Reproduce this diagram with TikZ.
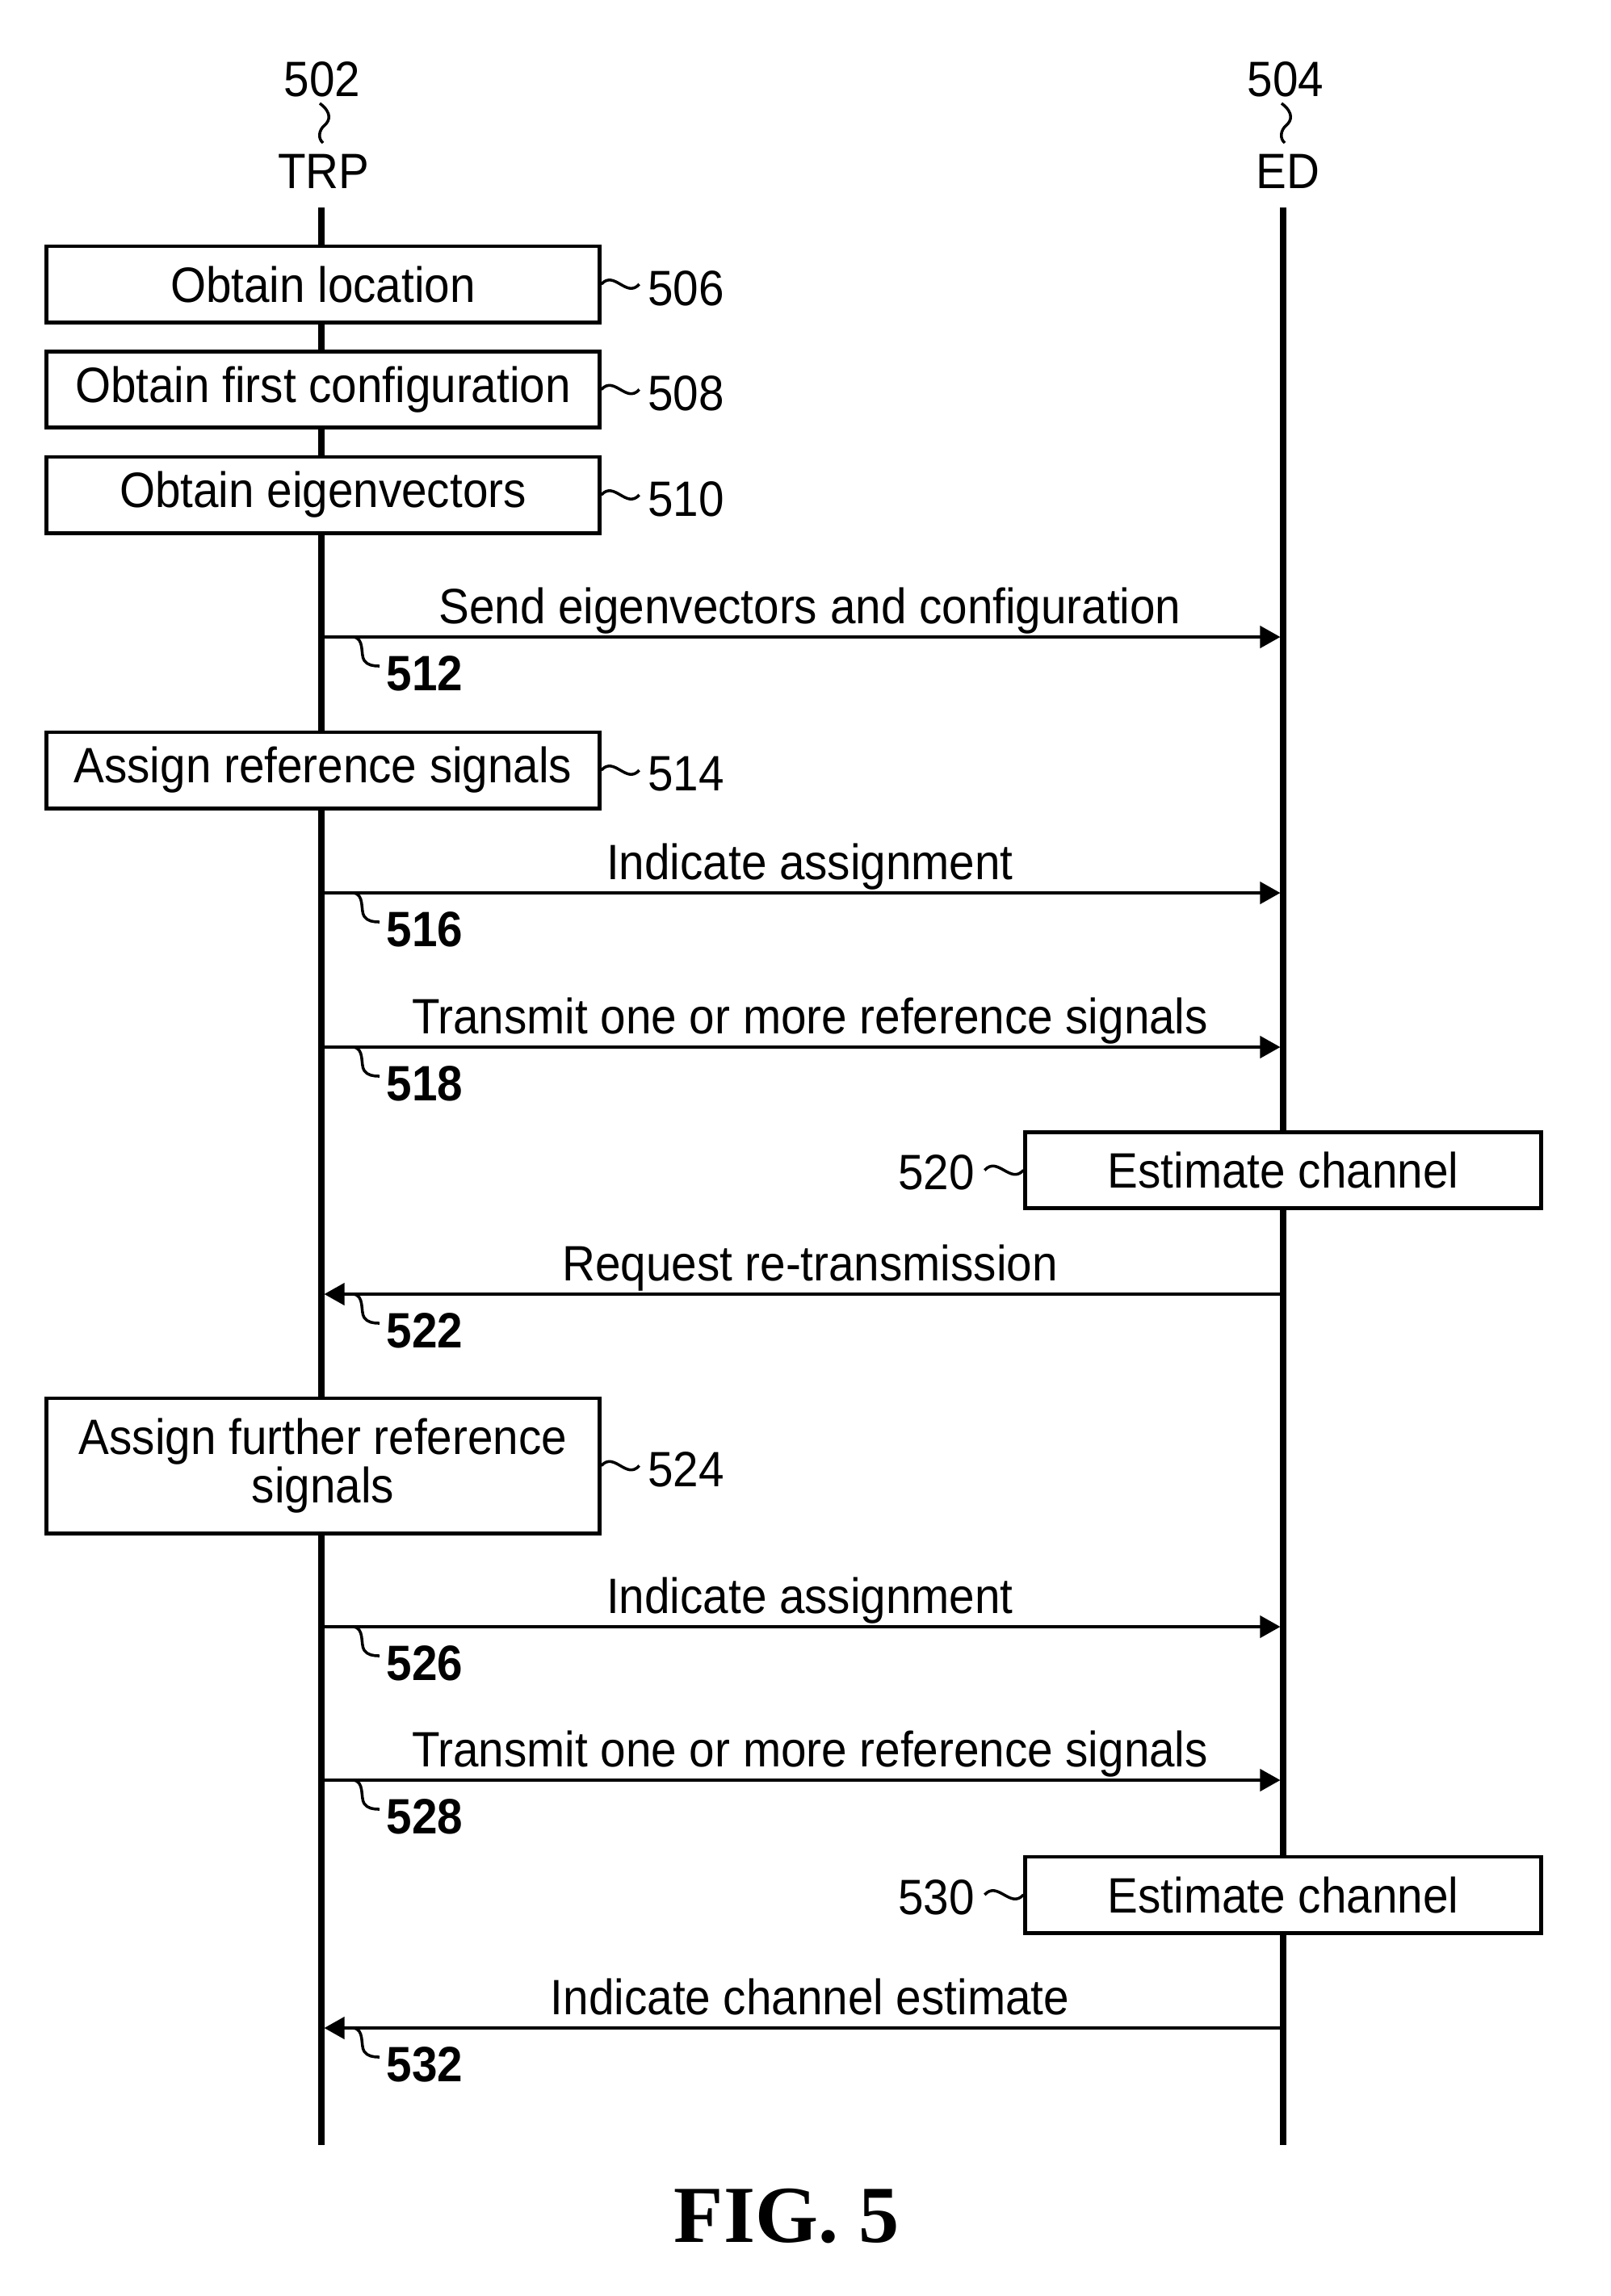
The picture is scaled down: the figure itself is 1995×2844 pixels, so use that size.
\documentclass[tikz,border=0pt]{standalone}
\usepackage{fontspec}
\setmainfont{Liberation Sans}[FakeStretch=0.92]
\newfontfamily\figfont{Liberation Serif}
\usetikzlibrary{arrows.meta}
\begin{document}
\begin{tikzpicture}[x=0.01cm,y=-0.01cm,
  txt/.style={font=\fontsize{17.5pt}{21pt}\selectfont, inner sep=0pt},
  stepbox/.style={txt, draw, line width=1.4pt, fill=white, minimum width=6.84cm, minimum height=0.94cm, align=center},
  edbox/.style={stepbox, minimum width=6.38cm},
  lifeline/.style={line width=2pt},
  msg/.style={line width=1.1pt, -{Triangle[length=0.25cm,width=0.27cm]}},
  sq/.style={line width=1pt},
  num/.style={inner sep=0pt, font=\fontsize{17.5pt}{21pt}\selectfont\bfseries, anchor=west},
  ref/.style={txt, anchor=west},
  msgtxt/.style={txt, anchor=base}]
\useasboundingbox (0,0) rectangle (1995,2844);

% headers
\node[txt] (n502) at (399,98) {502};
\node[txt] (trp) at (401,212) {TRP};
\node[txt] (n504) at (1592,98) {504};
\node[txt] (ed) at (1595,212) {ED};
\draw[sq] (396,128) .. controls (412,140) and (408,150) .. (402,155) .. controls (394,162) and (394,172) .. (400,177);
\draw[sq] (1587,128) .. controls (1603,140) and (1599,150) .. (1593,155) .. controls (1585,162) and (1585,172) .. (1591,177);

% lifelines
\coordinate (trpT) at (398,257); \coordinate (trpB) at (398,2657);
\coordinate (edT) at (1589,257); \coordinate (edB) at (1589,2657);
\draw[lifeline] (trpT) -- (trpB);
\draw[lifeline] (edT) -- (edB);

% TRP boxes
\node[stepbox] (b506) at (400,352) {Obtain location};
\node[stepbox] (b508) at (400,482.5) {Obtain first configuration};
\node[stepbox] (b510) at (400,613) {Obtain eigenvectors};
\node[stepbox] (b514) at (400,954) {Assign reference signals};
\node[stepbox, minimum height=1.67cm, font=\fontsize{17.5pt}{17pt}\selectfont] (b524) at (400,1815.5) {Assign further reference\\signals};

\foreach \n in {506,508,510,514,524}{
  \node[ref] (l\n) at ([xshift=0.57cm, yshift=-0.05cm]b\n.east) {\n};
  \draw[sq] (b\n.east) .. controls +(16,-18) and +(-16,18) .. ([xshift=-0.1cm]l\n.west |- b\n.east);
}

% ED boxes
\node[edbox] (b520) at (1589,1449.5) {Estimate channel};
\node[edbox] (b530) at (1589,2347) {Estimate channel};
\foreach \n in {520,530}{
  \node[txt, anchor=east] (l\n) at ([xshift=-0.6cm, yshift=-0.03cm]b\n.west) {\n};
  \draw[sq] ([xshift=0.12cm]l\n.east |- b\n.west) .. controls +(16,-18) and +(-16,18) .. (b\n.west);
}

% messages
\foreach \y/\n/\dir/\txt in {789/512/r/{Send eigenvectors and configuration},
    1106/516/r/{Indicate assignment},
    1297/518/r/{Transmit one or more reference signals},
    1603/522/l/{Request re-transmission},
    2015/526/r/{Indicate assignment},
    2205/528/r/{Transmit one or more reference signals},
    2512/532/l/{Indicate channel estimate}}{
  \coordinate (a\n) at (398,\y);
  \coordinate (b\n) at (1589,\y);
  \if\dir r
    \draw[msg] (a\n) -- ([xshift=-1pt]b\n);
  \else
    \draw[msg] (b\n) -- ([xshift=1pt]a\n);
  \fi
  \node[msgtxt] (t\n) at (1003,\y-17) {\txt};
  \node[num] (l\n) at (478,\y+45) {\n};
  \draw[sq] (437,\y) .. controls (452,\y+1) and (446,\y+22) .. (451,\y+29) .. controls (455,\y+35) and (462,\y+36) .. ([xshift=-0.08cm]l\n.west |- 0,\y+36);
}

\node[inner sep=0pt, font=\figfont\bfseries\fontsize{28.5pt}{30pt}\selectfont] (fig) at (974,2745) {FIG. 5};
\end{tikzpicture}
\end{document}
